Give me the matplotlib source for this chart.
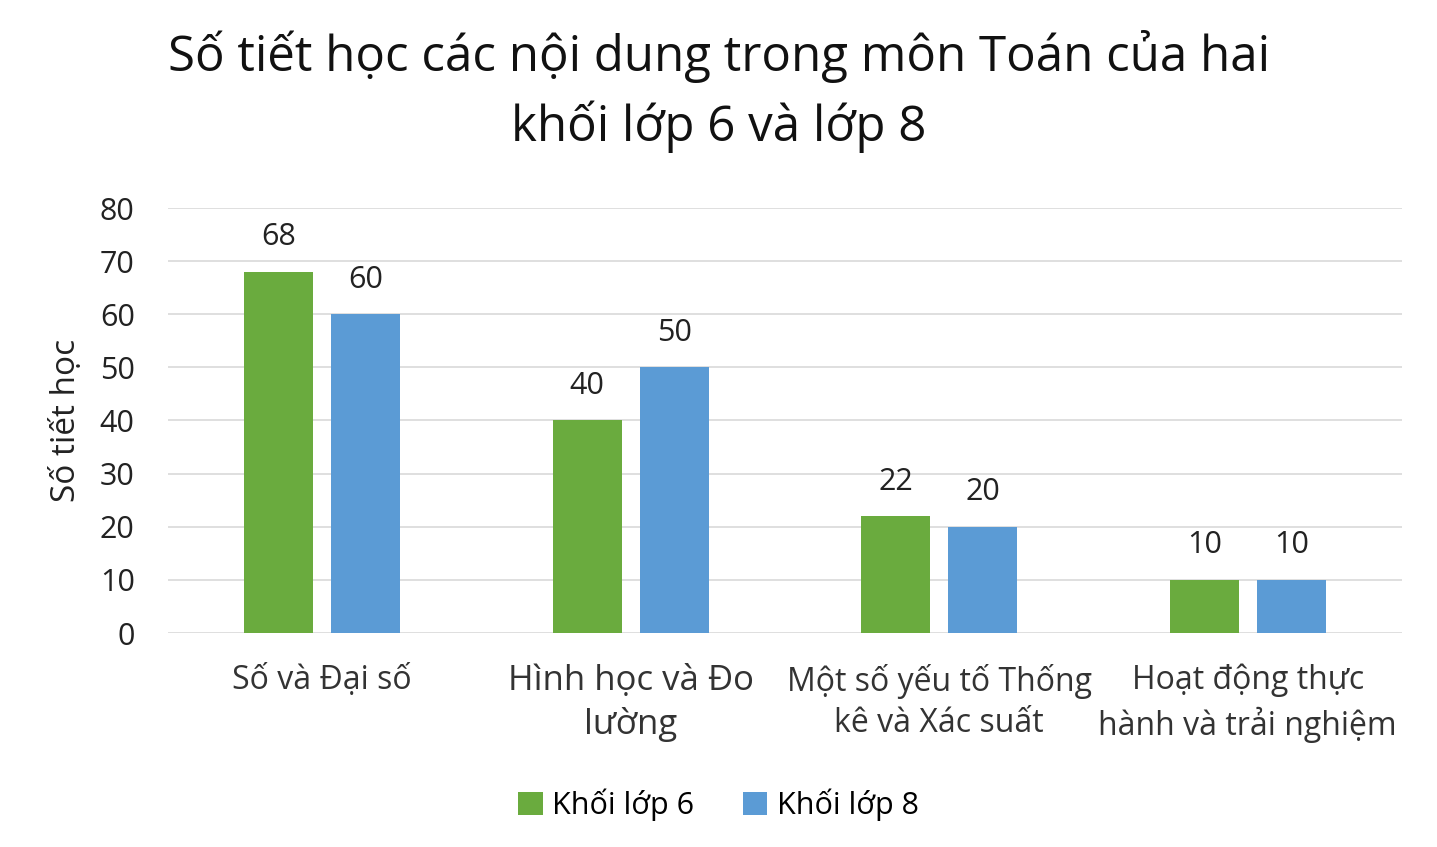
import numpy as np
import matplotlib.pyplot as plt

plt.rcParams['font.family'] = ['Open Sans', 'DejaVu Sans']

# Dữ liệu
noi_dung = ["Số và Đại số", "Hình học và Đo\nlường",
            "Một số yếu tố Thống\nkê và Xác suất", "Hoạt động thực\nhành và trải nghiệm"]
lop6 = [68, 40, 22, 10]
lop8 = [60, 50, 20, 10]
y_ticks = [0, 10, 20, 30, 40, 50, 60, 70, 80]

mau6 = "#6aab3e"
mau8 = "#5b9bd5"

fig = plt.figure(figsize=(14.37, 8.47), dpi=100)
ax = fig.add_axes([168/1437, 1 - 633/847, 1234/1437, 425/847])

x = np.arange(len(noi_dung))
w = 0.224
d = 0.141
b6 = ax.bar(x - d, lop6, w, color=mau6, label="Khối lớp 6", zorder=3)
b8 = ax.bar(x + d, lop8, w, color=mau8, label="Khối lớp 8", zorder=3)

for bars in (b6, b8):
    ax.bar_label(bars, padding=14, fontsize=22, color="#222222")

ax.set_xlim(-0.5, 3.5)
ax.set_ylim(0, 80)
ax.set_yticks(y_ticks)
ax.tick_params(axis='y', labelsize=22, length=0, pad=24, colors="#222222")
ax.set_xticks(x)
ax.set_xticklabels(noi_dung, fontsize=23, color="#333333", linespacing=1.35)
ax.get_xticklabels()[1].set_fontsize(25)
ax.tick_params(axis='x', length=0, pad=22)
ax.grid(axis='y', color="#d9d9d9", linewidth=1.2, zorder=0)
for s in ax.spines.values():
    s.set_visible(False)

ax.set_ylabel("Số tiết học", fontsize=24, color="#222222", labelpad=12)

fig.suptitle("Số tiết học các nội dung trong môn Toán của hai\nkhối lớp 6 và lớp 8",
             fontsize=35.5, y=0.965, x=0.5, linespacing=1.45, color="#111111")

fig.legend(handles=[b6, b8], loc="center", bbox_to_anchor=(0.5, 1 - 805/847),
           ncol=2, frameon=False, fontsize=22, handlelength=0.8, handleheight=0.8,
           columnspacing=1.6, handletextpad=0.3)

fig.savefig("out.png", dpi=100)
